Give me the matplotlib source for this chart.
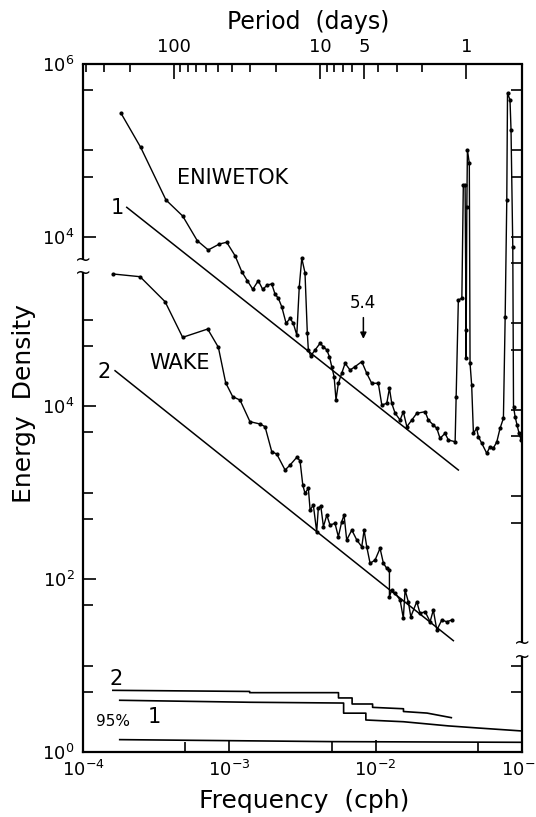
import numpy as np
import matplotlib.pyplot as plt

plt.rcParams['font.family'] = ['DejaVu Sans']
plt.rcParams['mathtext.default'] = 'regular'

# Eniwetok spectrum as log10 values (own scale, upper panel)
eni_logf = [-3.740, -3.606, -3.433, -3.319, -3.219, -3.144, -3.068, -3.018, -2.961, -2.915,
            -2.877, -2.840, -2.802, -2.772, -2.740, -2.710, -2.688, -2.665, -2.642, -2.612,
            -2.585, -2.563, -2.539, -2.522, -2.505, -2.483, -2.467, -2.460, -2.444, -2.414,
            -2.380, -2.357, -2.334, -2.316, -2.300, -2.284, -2.271, -2.255, -2.232, -2.209,
            -2.175, -2.141, -2.095, -2.061, -2.027, -1.982, -1.958, -1.924, -1.906, -1.890,
            -1.867, -1.833, -1.811, -1.787, -1.753, -1.719, -1.662, -1.640, -1.606, -1.582,
            -1.560, -1.526, -1.503, -1.457, -1.450, -1.435, -1.411, -1.401, -1.389, -1.382,
            -1.382, -1.377, -1.373, -1.360, -1.355, -1.344, -1.332, -1.310, -1.298, -1.275,
            -1.241, -1.218, -1.196, -1.172, -1.150, -1.127, -1.115, -1.104, -1.099, -1.082,
            -1.075, -1.063, -1.058, -1.047, -1.034, -1.020, -1.006, -1.000]
eni_loge = [5.430, 5.037, 4.428, 4.243, 3.957, 3.850, 3.919, 3.939, 3.784, 3.599,
            3.495, 3.395, 3.495, 3.395, 3.445, 3.457, 3.341, 3.291, 3.195, 3.002,
            3.060, 3.002, 2.867, 3.426, 3.754, 3.587, 2.887, 2.694, 2.624, 2.694,
            2.771, 2.732, 2.694, 2.616, 2.501, 2.385, 2.116, 2.309, 2.424, 2.540,
            2.462, 2.501, 2.559, 2.424, 2.309, 2.309, 2.058, 2.077, 2.251, 2.077,
            1.962, 1.884, 1.980, 1.807, 1.884, 1.962, 1.980, 1.884, 1.827, 1.788,
            1.672, 1.730, 1.653, 1.633, 2.153, 3.272, 3.291, 4.601, 4.601, 2.925,
            2.601, 4.350, 5.006, 4.852, 2.540, 2.289, 1.731, 1.788, 1.691, 1.615,
            1.500, 1.576, 1.557, 1.633, 1.788, 1.904, 3.079, 4.428, 5.665, 5.584,
            5.237, 3.888, 2.038, 1.923, 1.827, 1.731, 1.653, 1.730]

# Wake spectrum (log10, lower panel scale)
wake_logf = [-3.793, -3.610, -3.439, -3.319, -3.148, -3.075, -3.025, -2.977, -2.927, -2.859,
             -2.790, -2.756, -2.710, -2.676, -2.619, -2.585, -2.539, -2.517, -2.498, -2.483,
             -2.460, -2.448, -2.426, -2.403, -2.392, -2.375, -2.357, -2.334, -2.312, -2.278,
             -2.255, -2.232, -2.216, -2.198, -2.163, -2.129, -2.095, -2.079, -2.061, -2.038,
             -2.004, -1.970, -1.947, -1.924, -1.906, -1.906, -1.890, -1.867, -1.833, -1.811,
             -1.799, -1.777, -1.760, -1.719, -1.697, -1.662, -1.628, -1.606, -1.582, -1.548,
             -1.514, -1.480]
wake_loge = [5.526, 5.495, 5.206, 4.794, 4.890, 4.679, 4.269, 4.108, 4.069, 3.819,
             3.792, 3.761, 3.472, 3.445, 3.260, 3.318, 3.407, 3.368, 3.087, 2.991,
             3.049, 2.798, 2.855, 2.547, 2.817, 2.844, 2.605, 2.740, 2.624, 2.644,
             2.489, 2.662, 2.740, 2.451, 2.566, 2.451, 2.373, 2.566, 2.373, 2.181,
             2.220, 2.355, 2.181, 2.124, 2.104, 1.795, 1.873, 1.835, 1.757, 1.546,
             1.873, 1.738, 1.564, 1.738, 1.603, 1.622, 1.506, 1.642, 1.410, 1.526,
             1.506, 1.526]

# reference power-law lines 1 (Eniwetok) and 2 (Wake), end points
line1_logf = [-3.701, -1.435]
line1_loge = [4.343, 1.306]
line2_logf = [-3.781, -1.469]
line2_loge = [4.408, 1.287]

# 95% confidence limits
conf2_logf = [-3.796, -2.861, -2.861, -2.254, -2.254, -2.161, -2.161, -2.021, -2.021, -1.810, -1.810, -1.649, -1.483]
conf2_loge = [0.713, 0.700, 0.686, 0.686, 0.625, 0.625, 0.555, 0.555, 0.516, 0.500, 0.468, 0.450, 0.397]
conf1_logf = [-3.749, -2.861, -2.219, -2.219, -2.067, -2.067, -1.810, -1.505, -1.296, -1.000]
conf1_loge = [0.598, 0.575, 0.566, 0.449, 0.449, 0.370, 0.350, 0.302, 0.277, 0.243]
conflo_logf = [-3.749, -2.300, -1.000]
conflo_loge = [0.143, 0.120, 0.112]

period_major = [100, 10, 5, 1]
period_minor = [400, 300, 200, 90, 80, 70, 60, 50, 40, 30, 20, 9, 8, 7, 6, 4, 3, 2]

shift = 1.954          # decades the Eniwetok panel sits above the Wake panel
ytop = 7.954           # top of axis in lower-panel decades
brk_left = (5.538, 5.688)
brk_right = (1.09, 1.26)

fig = plt.figure(figsize=(5.36, 8.17), dpi=100)
ax = fig.add_axes([83 / 536, 1 - 752 / 817, 439 / 536, 688 / 817])
ax.set_xscale('log')
ax.set_yscale('log')
ax.set_xlim(1e-4, 1e-1)
ax.set_ylim(1, 10 ** ytop)

P = lambda a: 10 ** np.asarray(a)
kw = dict(color='k', lw=1.0, marker='o', ms=2.0, mfc='k', mec='k')
ax.plot(P(eni_logf), P(np.array(eni_loge) + shift), **kw)
ax.plot(P(wake_logf), P(wake_loge), **kw)
ax.plot(P(line1_logf), P(np.array(line1_loge) + shift), color='k', lw=1.1)
ax.plot(P(line2_logf), P(line2_loge), color='k', lw=1.1)
for lf, le in [(conf2_logf, conf2_loge), (conf1_logf, conf1_loge), (conflo_logf, conflo_loge)]:
    ax.plot(P(lf), P(le), color='k', lw=1.2, clip_on=False)

# spines with breaks
for s in ['left', 'right', 'top', 'bottom']:
    ax.spines[s].set_linewidth(1.6)
ax.spines['left'].set_bounds(1, 10 ** brk_left[0])
ax.plot([0, 0], [10 ** brk_left[1], 10 ** ytop], color='k', lw=1.6,
        transform=ax.get_yaxis_transform(), clip_on=False, solid_capstyle='butt')
ax.spines['right'].set_bounds(1, 10 ** brk_right[0])
ax.plot([1, 1], [10 ** brk_right[1], 10 ** ytop], color='k', lw=1.6,
        transform=ax.get_yaxis_transform(), clip_on=False, solid_capstyle='butt')
for xa, br in [(0, brk_left), (1, brk_right)]:
    for yb in br:
        ax.text(xa, 10 ** yb, '~', transform=ax.get_yaxis_transform(), ha='center',
                va='center', fontsize=14)

# left ticks
ymaj = [1, 1e2, 1e4, 1e4 * 10 ** shift, 1e6 * 10 ** shift]
ylab = ['$10^0$', '$10^2$', '$10^4$', '$10^4$', '$10^6$']
ymin = [5, 10, 50, 500, 1e3, 5e3, 5e4, 1e5] + [v * 10 ** shift for v in (5e4, 1e5, 5e5)]
ax.set_yticks(ymaj)
ax.set_yticklabels(ylab, fontsize=13)
ax.set_yticks(ymin, minor=True)
ax.set_yticklabels([], minor=True)

ax.set_xticks([1e-4, 1e-3, 1e-2, 1e-1])
ax.set_xticklabels(['$10^{-4}$', '$10^{-3}$', '$10^{-2}$', '$10^{-1}$'], fontsize=13)
ax.set_xticks([5e-4, 5e-3, 5e-2], minor=True)
ax.set_xticklabels([], minor=True)
ax.tick_params(which='both', direction='in', width=1.2, top=False, right=False)
ax.tick_params(which='major', length=9, pad=6)
ax.tick_params(which='minor', length=7)

# right ticks
axr = ax.secondary_yaxis('right')
rmaj = [v * 10 ** shift for v in (1e5, 1e4, 1e3, 1e2, 1e1)] + [1e1, 1e0]
rmin = [v * 10 ** shift for v in (5e5, 5e4, 5e3, 5e2, 5e1, 5e0)] + [5]
axr.set_yticks(rmaj)
axr.set_yticks(rmin, minor=True)
axr.set_yticklabels([])
axr.set_yticklabels([], minor=True)
axr.tick_params(which='both', direction='in', length=8, width=1.2)
axr.spines['right'].set_visible(False)

# top period axis
axt = ax.secondary_xaxis('top', functions=(lambda f: 1 / (24 * f), lambda p: 1 / (24 * p)))
axt.set_xticks(period_major)
axt.set_xticklabels([str(p) for p in period_major], fontsize=13)
axt.set_xticks(period_minor, minor=True)
axt.set_xticklabels([], minor=True)
axt.tick_params(which='major', direction='in', length=11, width=1.2, pad=6)
axt.tick_params(which='minor', direction='in', length=6, width=1.2)
axt.spines['top'].set_visible(False)

# annotations
ax.text(10 ** -2.975, 10 ** (4.682 + shift), 'ENIWETOK', fontsize=15, ha='center', va='center')
ax.text(10 ** -3.337, 10 ** 4.494, 'WAKE', fontsize=15, ha='center', va='center')
ax.text(10 ** -3.766, 10 ** (4.332 + shift), '1', fontsize=15, ha='center', va='center')
ax.text(10 ** -3.854, 10 ** 4.397, '2', fontsize=15, ha='center', va='center')
ax.text(10 ** -2.084, 10 ** (3.233 + shift), '5.4', fontsize=12, ha='center', va='center')
ax.annotate('', xy=(10 ** -2.084, 10 ** (2.79 + shift)), xytext=(10 ** -2.084, 10 ** (3.10 + shift)),
            arrowprops=dict(arrowstyle='-|>', color='k', lw=1.1, mutation_scale=9))
ax.text(10 ** -3.774, 10 ** 0.844, '2', fontsize=15, ha='center', va='center')
ax.text(10 ** -3.515, 10 ** 0.408, '1', fontsize=15, ha='center', va='center')
ax.text(10 ** -3.795, 10 ** 0.349, '95%', fontsize=11, ha='center', va='center')

fig.text(308 / 536, 1 - 22 / 817, 'Period  (days)', fontsize=17, ha='center', va='center')
fig.text(304 / 536, 1 - 801 / 817, 'Frequency  (cph)', fontsize=18, ha='center', va='center')
fig.text(24 / 536, 1 - 404 / 817, 'Energy  Density', fontsize=18, ha='center', va='center',
         rotation=90)

fig.savefig('out.png', dpi=100)
